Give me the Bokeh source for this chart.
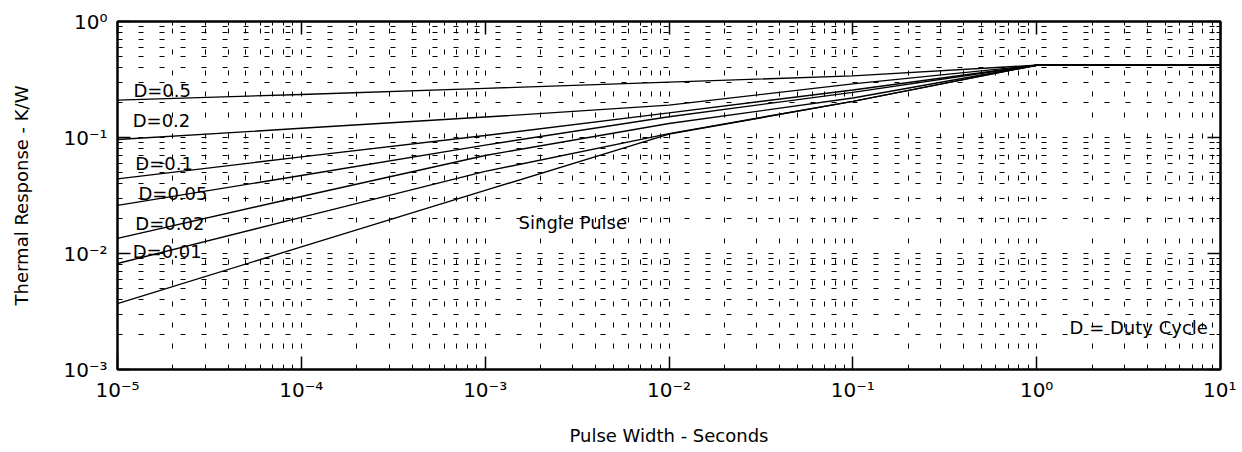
from bokeh.plotting import figure
from bokeh.models import LogAxis, FixedTicker, Range1d, ColumnDataSource, CustomJSTickFormatter
from bokeh.core.properties import value
from bokeh.embed import file_html
from bokeh.resources import INLINE

# ---- data ----
pulse_width = [1e-5, 1e-4, 1e-3, 1e-2, 1e-1, 1.0, 10.0]
d_050 = [0.21, 0.235, 0.265, 0.30, 0.34, 0.42, 0.42]
d_020 = [0.096, 0.12, 0.15, 0.19, 0.29, 0.42, 0.42]
d_010 = [0.044, 0.068, 0.104, 0.163, 0.257, 0.42, 0.42]
d_005 = [0.026, 0.047, 0.086, 0.151, 0.245, 0.42, 0.42]
d_002 = [0.0135, 0.031, 0.070, 0.132, 0.219, 0.42, 0.42]
d_001 = [0.0082, 0.0205, 0.051, 0.108, 0.205, 0.42, 0.42]
single = [0.0037, 0.0114, 0.035, 0.107, 0.205, 0.42, 0.42]

x_ticks = [1e-5, 1e-4, 1e-3, 1e-2, 1e-1, 1.0, 10.0]
x_tick_labels = ["10⁻⁵", "10⁻⁴", "10⁻³", "10⁻²", "10⁻¹", "10⁰", "10¹"]
y_ticks = [1e-3, 1e-2, 1e-1, 1.0]
y_tick_labels = ["10⁻³", "10⁻²", "10⁻¹", "10⁰"]

label_text = ["D=0.5", "D=0.2", "D=0.1", "D=0.05", "D=0.02", "D=0.01", "Single Pulse", "D = Duty Cycle"]
label_x = [1.22e-5, 1.21e-5, 1.25e-5, 1.30e-5, 1.25e-5, 1.21e-5, 1.52e-3, 1.51]
label_y = [0.254, 0.140, 0.0597, 0.0329, 0.0181, 0.0104, 0.0185, 0.0023]

FONT = "DejaVu Sans"

x_minor = [m * 10.0 ** e for e in range(-5, 1) for m in range(2, 10)]
y_minor = [m * 10.0 ** e for e in range(-3, 0) for m in range(2, 10)]
xticker = FixedTicker(ticks=x_ticks, minor_ticks=x_minor)
yticker = FixedTicker(ticks=y_ticks, minor_ticks=y_minor)

fmt_code = """
let best = 0, bd = Infinity;
for (let i = 0; i < tvals.length; i++) {
  const d = Math.abs(Math.log10(tvals[i]) - Math.log10(tick));
  if (d < bd) { bd = d; best = i; }
}
return tlabels[best];
"""
xfmt = CustomJSTickFormatter(args=dict(tvals=x_ticks, tlabels=x_tick_labels), code=fmt_code)
yfmt = CustomJSTickFormatter(args=dict(tvals=y_ticks, tlabels=y_tick_labels), code=fmt_code)

p = figure(width=1236, height=448, x_axis_type="log", y_axis_type="log",
           x_range=Range1d(1e-5, 10), y_range=Range1d(1e-3, 1),
           output_backend="svg", toolbar_location=None,
           min_border_left=117, min_border_top=21, min_border_right=16, min_border_bottom=79)
p.background_fill_color = "white"
p.border_fill_color = "white"
p.outline_line_color = "black"
p.outline_line_width = 2

xa = p.below[0]
ya = p.left[0]
xa.ticker = xticker
ya.ticker = yticker
xa.formatter = xfmt
ya.formatter = yfmt
xa.axis_label = "Pulse Width - Seconds"
ya.axis_label = "Thermal Response - K/W"

extra_top = LogAxis(ticker=xticker, formatter=xfmt)
extra_right = LogAxis(ticker=yticker, formatter=yfmt)
p.add_layout(extra_top, "above")
p.add_layout(extra_right, "right")

for ax in [xa, ya, extra_top, extra_right]:
    ax.axis_line_color = "black"
    ax.axis_line_width = 2
    ax.major_tick_line_color = "black"
    ax.major_tick_line_width = 1.5
    ax.major_tick_in = 13
    ax.major_tick_out = 0
    ax.minor_tick_line_color = "black"
    ax.minor_tick_in = 4
    ax.minor_tick_out = 0
    ax.major_label_text_font = FONT
    ax.major_label_text_font_size = "20px"
    ax.major_label_text_color = "black"
    ax.axis_label_text_font = FONT
    ax.axis_label_text_font_size = "18px"
    ax.axis_label_text_font_style = "normal"
    ax.axis_label_text_color = "black"

for ax in [extra_top, extra_right]:
    ax.major_label_text_font_size = "2px"
    ax.major_label_text_alpha = 0
    ax.major_label_standoff = 0

xa.major_label_standoff = 8
xa.axis_label_standoff = 20
ya.major_label_standoff = 10
ya.axis_label_standoff = 28

for g, t in [(p.xgrid[0], xticker), (p.ygrid[0], yticker)]:
    g.ticker = t
    g.grid_line_color = "black"
    g.grid_line_width = 1
    g.grid_line_dash = "5 16"
    g.minor_grid_line_color = "black"
    g.minor_grid_line_width = 1
    g.minor_grid_line_dash = "5 16"

for series in [d_050, d_020, d_010, d_005, d_002, d_001, single]:
    p.line(pulse_width, series, line_color="black", line_width=1.4)

src = ColumnDataSource(dict(x=label_x, y=label_y, t=label_text))
p.text(x="x", y="y", text="t", source=src, text_font=value(FONT),
       text_font_size=value("18px"), text_color="black",
       text_align="left", text_baseline="middle")

open("out.html", "w").write(file_html(p, INLINE))
